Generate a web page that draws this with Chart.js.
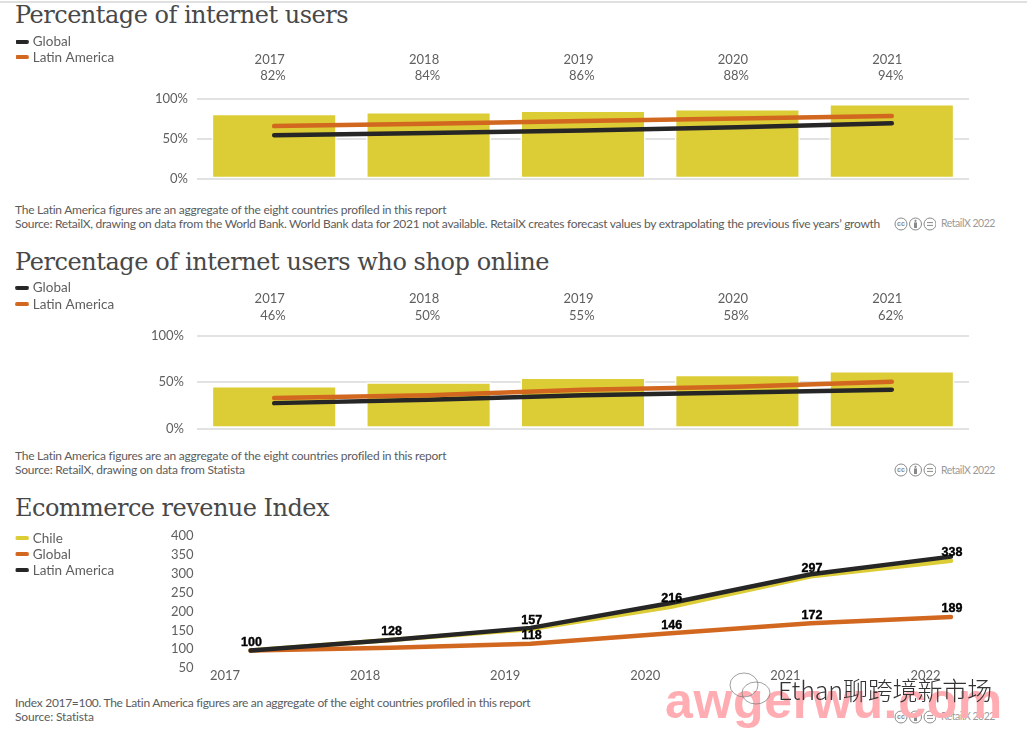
<!DOCTYPE html>
<html>
<head>
<meta charset="utf-8">
<script src="https://cdn.jsdelivr.net/npm/chart.js@4"></script>
<style>
html,body{margin:0;padding:0;background:#fff;width:1027px;height:735px;overflow:hidden}
canvas{position:absolute;left:0}
.t{position:absolute;white-space:nowrap;line-height:1}
.title{font-family:"DejaVu Serif",serif;font-size:24px;color:#484848}
.note{font-family:"Lato",sans-serif;font-size:12px;color:#5c5c5c}
.cc{position:absolute;left:894px}
.rx{font-family:"Lato",sans-serif;font-size:10.5px;color:#9a9a9a}
#rule{position:absolute;left:0;top:1px;width:1027px;height:2px;background:#e0e0e0}
</style>
</head>
<body>
<div id="rule"></div>
<canvas id="c1" width="1027" height="160" style="top:33px"></canvas>
<canvas id="c2" width="1027" height="164" style="top:278px"></canvas>
<canvas id="c3" width="1027" height="160" style="top:529px"></canvas>
<script>
const yearsA = ['2017','2018','2019','2020','2021'];
const yearsB = ['2017','2018','2019','2020','2021','2022'];
const usersPct = [82,84,86,88,94];
const usersGlobal = [55,58,61,65,70];
const usersLatam = [66.5,69.5,73,76,79];
const shopPct = [46,50,55,58,62];
const shopGlobal = [27.5,31,36,39,42];
const shopLatam = [33,36,42,45,50.5];
const revChile = [100,128,157,216,297,338];
const revGlobal = [100,107,118,146,172,189];
const revLatam = [100,128,160,226,302,349];
const revGlobalLabels = [null,null,118,146,172,189];
const pctTicks = [0,50,100];
const revTicks = [50,100,150,200,250,300,350,400];

const YELLOW='#DCCC35', ORANGE='#D2671F', BLACK='#262626', TXT='#5f5f5f', GRID='#e2e2e2';
const SANS='Lato';

function swatch(color){
  const c=document.createElement('canvas');c.width=14;c.height=4;
  const x=c.getContext('2d');x.fillStyle=color;
  x.beginPath();x.roundRect(0,0,14,4,2);x.fill();
  return c;
}
function legendCfg(gap){
  return {
    position:'left',align:'start',
    labels:{
      usePointStyle:true,pointStyleWidth:8,padding:gap,color:TXT,
      font:{family:SANS,size:13.5},
      generateLabels(chart){
        return chart.data.datasets.filter(d=>d.type==='line'||!d.type).map(d=>({
          text:d.label,pointStyle:swatch(d.borderColor),fontColor:TXT,
          fillStyle:d.borderColor,strokeStyle:d.borderColor,lineWidth:0,hidden:false
        }));
      }
    }
  };
}
function setPad(s,top){s.paddingTop=top||0;s.paddingBottom=0;s.paddingLeft=0;s.paddingRight=0;}
function pctChart(id,pct,glob,lat,opt){
  const labels=yearsA.map((y,i)=>[y,'\u00a0\u00a0'+pct[i]+'%']);
  new Chart(document.getElementById(id),{
    type:'bar',
    data:{labels,datasets:[
      {type:'line',label:'Global',data:glob,borderColor:BLACK,borderWidth:4.5,pointRadius:0,tension:0,borderCapStyle:'round',order:1},
      {type:'line',label:'Latin America',data:lat,borderColor:ORANGE,borderWidth:4.5,pointRadius:0,tension:0,borderCapStyle:'round',order:0},
      {type:'bar',label:'Share',data:pct,backgroundColor:YELLOW,borderColor:'#fff',borderWidth:1.5,borderSkipped:false,barPercentage:1,categoryPercentage:0.81,order:2}
    ]},
    options:{
      responsive:false,animation:false,
      layout:{padding:{left:18-opt.gap,right:1027-969,top:0,bottom:opt.padBottom}},
      plugins:{legend:legendCfg(opt.gap),tooltip:{enabled:false}},
      scales:{
        x:{position:'top',grid:{display:false},border:{display:false},
           ticks:{color:TXT,font:{family:SANS,size:13,lineHeight:opt.lh},padding:opt.xPad,labelOffset:-4.5,maxRotation:0,autoSkip:false},
           afterFit(s){setPad(s);s.height=opt.xH;}},
        y:{min:0,max:100,afterBuildTicks(s){s.ticks=pctTicks.map(v=>({value:v}));},
           grid:{color:GRID,lineWidth:2,drawTicks:false},border:{display:false},
           ticks:{color:TXT,font:{family:SANS,size:13},padding:opt.yPad,autoSkip:false,callback:v=>v+'%'},
           afterFit(s){setPad(s);s.width=197-(18-opt.gap)-(s.chart.legend?s.chart.legend.width:0);}}
      }
    }
  });
}
pctChart('c1',usersPct,usersGlobal,usersLatam,{gap:2,lh:1.18,xPad:8,xH:66.3,padBottom:13.7,yPad:9});
pctChart('c2',shopPct,shopGlobal,shopLatam,{gap:3,lh:1.28,xPad:3.5,xH:57.7,padBottom:13.3,yPad:13});

const valueLabels={
  id:'valueLabels',
  afterDatasetsDraw(chart){
    const ctx=chart.ctx;
    ctx.save();
    ctx.font='bold 12.5px "Liberation Sans"';
    ctx.fillStyle='#000';ctx.strokeStyle='#000';ctx.lineWidth=0.4;
    ctx.textAlign='center';ctx.textBaseline='middle';
    const put=(idx,vals)=>{
      const pts=chart.getDatasetMeta(idx).data;
      vals.forEach((v,i)=>{ if(v!=null){ ctx.fillText(v,pts[i].x+1,pts[i].y-8); ctx.strokeText(v,pts[i].x+1,pts[i].y-8);} });
    };
    put(0,revChile);put(1,revGlobalLabels);
    ctx.restore();
  }
};
new Chart(document.getElementById('c3'),{
  type:'line',
  data:{labels:yearsB,datasets:[
    {label:'Chile',data:revChile,borderColor:YELLOW,borderWidth:4.5,pointRadius:0,tension:0,borderCapStyle:'round',order:2},
    {label:'Global',data:revGlobal,borderColor:ORANGE,borderWidth:4.5,pointRadius:0,tension:0,borderCapStyle:'round',order:1},
    {label:'Latin America',data:revLatam,borderColor:BLACK,borderWidth:4.5,pointRadius:0,tension:0,borderCapStyle:'round',order:0}
  ]},
  plugins:[valueLabels],
  options:{
    responsive:false,animation:false,
    layout:{padding:{left:15.5,right:1027-951,top:0,bottom:0}},
    plugins:{legend:legendCfg(2.5),tooltip:{enabled:false}},
    scales:{
      x:{offset:false,grid:{display:false},border:{display:false},
         ticks:{color:TXT,font:{family:SANS,size:13},padding:-9,labelOffset:-25.5,maxRotation:0,autoSkip:false},
         afterFit(s){setPad(s);s.height=160-(669.35-529);}},
      y:{min:50,max:400,afterBuildTicks(s){s.ticks=revTicks.map(v=>({value:v}));},
         grid:{display:false},border:{display:false},
         ticks:{color:TXT,font:{family:SANS,size:13},padding:49,labelOffset:-1.3,autoSkip:false},
         afterFit(s){setPad(s,8.4);s.width=250.5-15.5-(s.chart.legend?s.chart.legend.width:0);}}
    }
  }
});

function text(cls,str,left,top,width){
  const d=document.createElement('div');d.className='t '+cls;d.textContent=str;
  d.style.left=left+'px';d.style.top=top+'px';document.body.appendChild(d);
  if(width){
    const w=d.getBoundingClientRect().width;
    d.style.letterSpacing=((width-w)/str.length)+'px';
  }
  return d;
}
text('title','Percentage of internet users',15,3,333);
text('title','Percentage of internet users who shop online',15,250,534);
text('title','Ecommerce revenue Index',15,496,314);
const L='The Latin America figures are an aggregate of the eight countries profiled in this report';
text('note',L,15,204,431);
text('note','Source: RetailX, drawing on data from the World Bank. World Bank data for 2021 not available. RetailX creates forecast values by extrapolating the previous five years\u2019 growth',15,218,865);
text('note',L,15,450,431);
text('note','Source: RetailX, drawing on data from Statista',15,464,230);
text('note','Index 2017=100. The Latin America figures are an aggregate of the eight countries profiled in this report',15,697,515);
text('note','Source: Statista',15,711,79);

function ccBadge(y){
  const s=document.createElementNS('http://www.w3.org/2000/svg','svg');
  s.setAttribute('class','cc');s.setAttribute('width','42');s.setAttribute('height','14');
  s.style.top=y+'px';
  s.innerHTML='<g fill="none" stroke="#8a8a8a" stroke-width="1"><circle cx="7" cy="7" r="6"/><circle cx="21.5" cy="7" r="6"/><circle cx="36" cy="7" r="6"/><path d="M33 5.6h6M33 8.4h6"/></g>'+
  '<text x="7" y="9.4" font-size="7" font-weight="bold" text-anchor="middle" fill="#8a8a8a" font-family="Liberation Sans">cc</text>'+
  '<circle cx="21.5" cy="3.8" r="1.1" fill="#8a8a8a"/><rect x="20" y="5.4" width="3" height="5.6" fill="#8a8a8a"/>';
  document.body.appendChild(s);
}
[217,463,710].forEach(ccBadge);
text('rx','RetailX 2022',941,218,54);
text('rx','RetailX 2022',941,465,54);
text('rx','RetailX 2022',941,711,54);

// overlay marks present on the source picture
const wm=text('', 'awgerwu.com',665,672,0);
wm.style.font='bold 50px "Liberation Sans"';wm.style.color='#FFADB2';
const w0=wm.getBoundingClientRect().width;
wm.style.letterSpacing=((338-w0)/11)+'px';
const ic=document.createElementNS('http://www.w3.org/2000/svg','svg');
ic.setAttribute('width','44');ic.setAttribute('height','36');
ic.style.cssText='position:absolute;left:728px;top:671px';
ic.innerHTML='<g fill="none" stroke="#777" stroke-width="0.7"><ellipse cx="16" cy="14" rx="14" ry="12"/><ellipse cx="28" cy="22" rx="14" ry="11"/></g>';
document.body.appendChild(ic);
const wx=text('', 'Ethan聊跨境新市场',778,671,0);
wx.style.font='300 25px "Noto Sans CJK SC"';wx.style.color='#333';
const w1=wx.getBoundingClientRect().width;
wx.style.letterSpacing=((214-w1)/11)+'px';
</script>
</body>
</html>
